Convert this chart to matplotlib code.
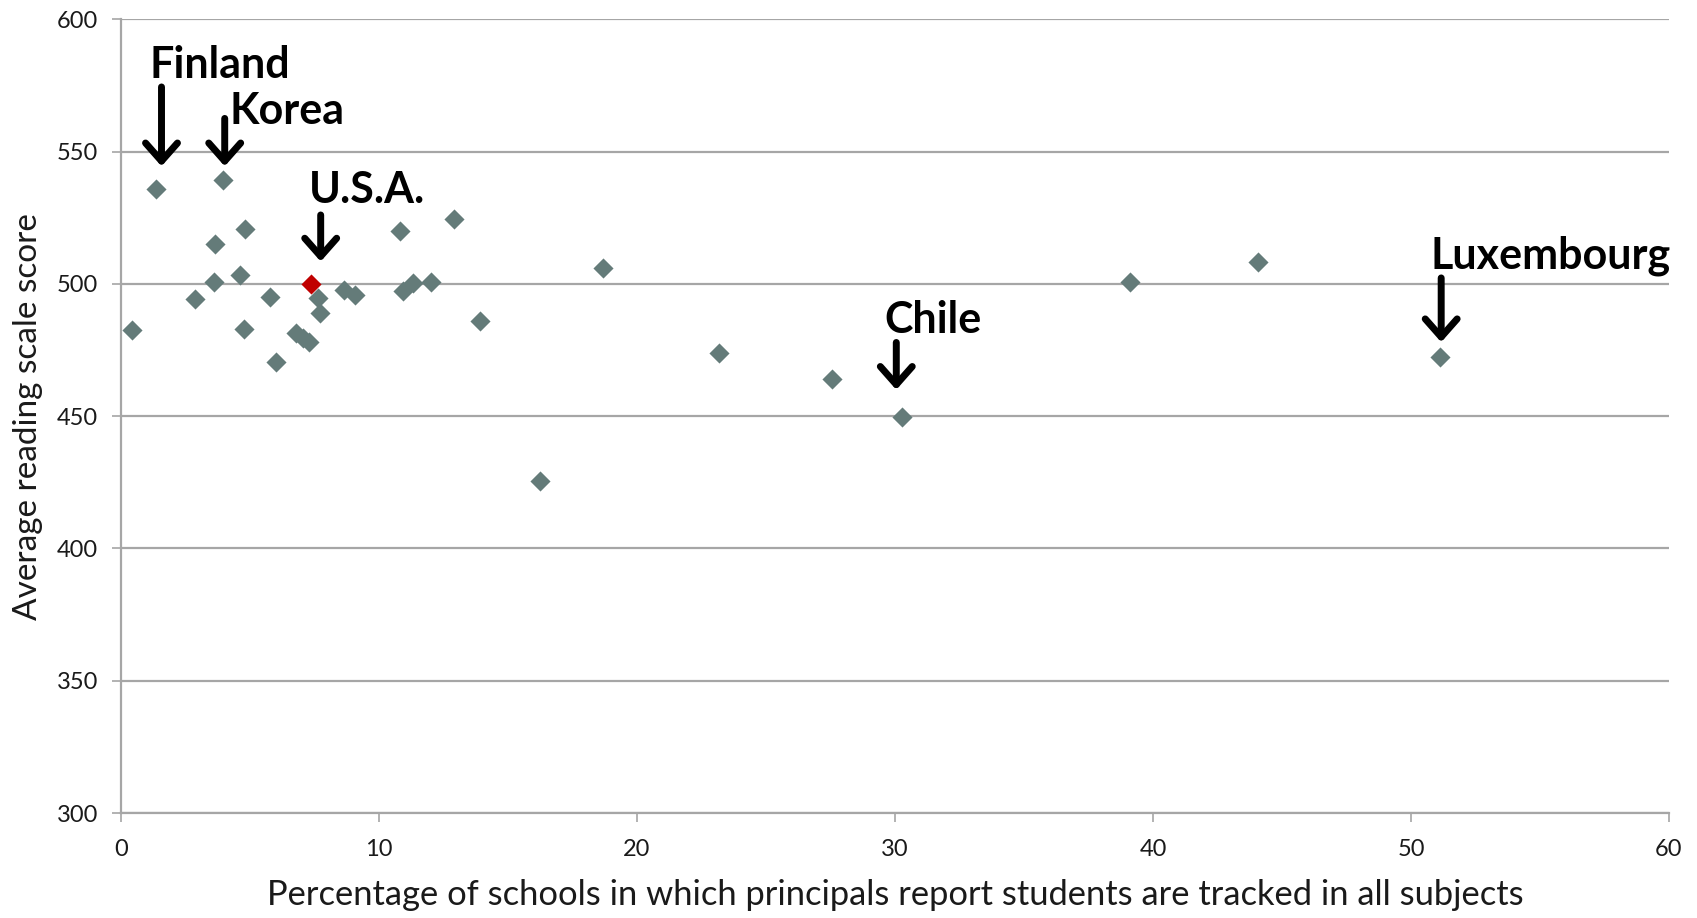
import matplotlib
matplotlib.use("Agg")
import matplotlib.pyplot as plt

plt.rcParams["font.family"] = ["Lato", "DejaVu Sans"]

# Share of schools tracking students in all subjects (%) vs. average reading score
pct_tracked = [0.43, 1.35, 2.86, 3.60, 3.66, 3.94, 4.60, 4.75, 4.82, 5.79,
               5.99, 6.80, 7.05, 7.30, 7.64, 7.70, 8.64, 9.06, 10.81, 10.93,
               11.32, 12.03, 12.89, 13.90, 16.25, 18.67, 23.16, 27.57, 30.27,
               39.11, 44.08, 51.12]
reading_score = [482.7, 535.9, 494.3, 500.6, 515.1, 539.3, 503.5, 483.1, 520.9, 495.0,
                 470.4, 481.5, 479.5, 478.0, 494.7, 489.2, 497.8, 495.7, 520.1, 497.4,
                 500.3, 500.9, 524.5, 486.1, 425.4, 506.0, 474.0, 464.2, 449.6,
                 500.6, 508.5, 472.3]

# United States, highlighted
usa_pct = [7.38]
usa_score = [500.0]

# Callouts: label, text anchor (x, y), arrow top, arrow tip
callout_names = ["Finland", "Korea", "U.S.A.", "Chile", "Luxembourg"]
callout_text_x = [1.10, 4.20, 7.30, 29.60, 50.75]
callout_text_y = [578.0, 560.5, 530.5, 481.5, 506.0]
arrow_x = [1.57, 4.02, 7.74, 30.05, 51.17]
arrow_top = [574.5, 562.6, 526.1, 477.9, 502.3]
arrow_tip = [544.5, 544.5, 508.5, 460.0, 478.0]

x_ticks = [0, 10, 20, 30, 40, 50, 60]
y_ticks = [300, 350, 400, 450, 500, 550, 600]
x_tick_labels = ["0", "10", "20", "30", "40", "50", "60"]
y_tick_labels = ["300", "350", "400", "450", "500", "550", "600"]

marker_color = "#647B79"
grid_color = "#A6A6A6"
text_color = "#1A1A1A"

fig = plt.figure(figsize=(16.97, 9.18), dpi=100)
ax = fig.add_axes([121 / 1697, 1 - 813 / 918, (1669 - 121) / 1697, (813 - 19.5) / 918])

ax.set_xlim(0, 60)
ax.set_ylim(300, 600)

ax.grid(axis="y", color=grid_color, linewidth=1.6)
ax.set_axisbelow(True)
for side in ("top", "right"):
    ax.spines[side].set_visible(False)
for side in ("left", "bottom"):
    ax.spines[side].set_color(grid_color)
    ax.spines[side].set_linewidth(1.6)
ax.tick_params(axis="both", direction="out", length=6.5, width=1.2, color=grid_color)
ax.tick_params(axis="y", pad=10)
ax.tick_params(axis="x", pad=12)
ax.set_xticks(x_ticks, labels=x_tick_labels, fontsize=17, color=text_color)
ax.set_yticks(y_ticks, labels=y_tick_labels, fontsize=17, color=text_color)

ax.scatter(pct_tracked, reading_score, marker="D", s=105, color=marker_color,
           linewidths=0, zorder=3)
ax.scatter(usa_pct, usa_score, marker="D", s=105, color="#C00000",
           linewidths=0, zorder=4)

for name, tx, ty, ax_x, a_top, a_tip in zip(callout_names, callout_text_x, callout_text_y,
                                            arrow_x, arrow_top, arrow_tip):
    ax.text(tx, ty, name, fontsize=31, fontweight="bold",
            ha="left", va="baseline", color="black", zorder=5)
    ax.annotate("", xy=(ax_x, a_tip), xytext=(ax_x, a_top),
                arrowprops=dict(arrowstyle="->,head_length=1.3,head_width=1.15",
                                color="black", lw=5, capstyle="round",
                                joinstyle="round", shrinkA=0, shrinkB=0),
                zorder=5)

ax.set_xlabel("Percentage of schools in which principals report students are tracked in all subjects",
              fontsize=24.8, color=text_color, labelpad=14)
ax.set_ylabel("Average reading scale score", fontsize=24, color=text_color, labelpad=10)

fig.savefig("out.png", dpi=100, facecolor="white")
